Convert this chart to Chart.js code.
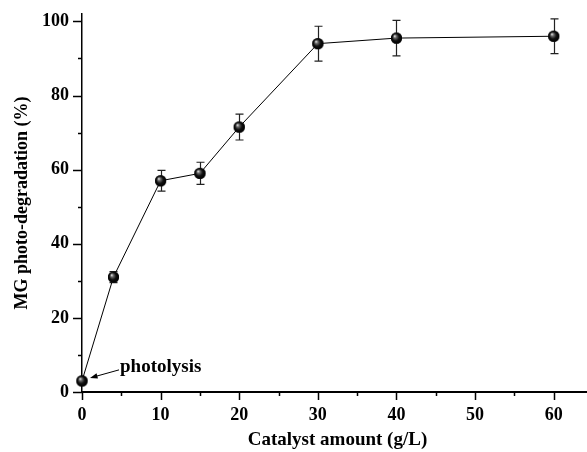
<!DOCTYPE html>
<html>
<head>
<meta charset="utf-8">
<script src="https://cdn.jsdelivr.net/npm/chart.js@4"></script>
<style>
  html, body { margin: 0; padding: 0; background: #fff; overflow: hidden; }
  #chart { display: block; }
</style>
</head>
<body>
<canvas id="chart" width="600" height="452"></canvas>
<script>
// catalyst loading (g/L) vs. MG photo-degradation (%)
const amounts = [0, 4, 10, 15, 20, 30, 40, 60];
const degradation = [3, 31, 57, 59, 71.5, 94, 95.5, 96];
const errors = [0, 1.5, 2.8, 3, 3.5, 4.7, 4.8, 4.7];

const xTicks = [0, 5, 10, 15, 20, 25, 30, 35, 40, 45, 50, 55, 60, 65];
const yTicks = [0, 10, 20, 30, 40, 50, 60, 70, 80, 90, 100];

const FONT = '"Liberation Serif", "Times New Roman", serif';

// shaded ball marker
function makeBall(r) {
    const c = document.createElement('canvas');
    const s = r * 2 + 2;
    c.width = s; c.height = s;
    const g = c.getContext('2d');
    const cx = s / 2, cy = s / 2;
    const grad = g.createRadialGradient(cx - r * 0.35, cy - r * 0.4, 0.3, cx, cy, r);
    grad.addColorStop(0, '#e8e8e8');
    grad.addColorStop(0.25, '#6a6a6a');
    grad.addColorStop(0.6, '#111');
    grad.addColorStop(1, '#000');
    g.fillStyle = grad;
    g.beginPath();
    g.arc(cx, cy, r, 0, Math.PI * 2);
    g.fill();
    return c;
}
const ball = makeBall(5.5);

// error bars, drawn under the markers
const errorBars = {
    id: 'errorBars',
    afterDatasetsDraw(chart) {
        const ctx = chart.ctx;
        const xs = chart.scales.x, ys = chart.scales.y;
        ctx.save();
        ctx.strokeStyle = '#222';
        ctx.lineWidth = 1.2;
        amounts.forEach((a, i) => {
            if (!errors[i]) return;
            const px = Math.round(xs.getPixelForValue(a)) + 0.5;
            const top = ys.getPixelForValue(degradation[i] + errors[i]);
            const bot = ys.getPixelForValue(degradation[i] - errors[i]);
            ctx.beginPath();
            ctx.moveTo(px, top); ctx.lineTo(px, bot);
            ctx.moveTo(px - 4, top); ctx.lineTo(px + 4, top);
            ctx.moveTo(px - 4, bot); ctx.lineTo(px + 4, bot);
            ctx.stroke();
        });
        // redraw balls on top of the bars
        const meta = chart.getDatasetMeta(0);
        meta.data.forEach(pt => {
            ctx.drawImage(ball, pt.x - ball.width / 2, pt.y - ball.height / 2);
        });
        ctx.restore();
    }
};

// outward axis ticks (major + minor) and the photolysis note
const axisDecor = {
    id: 'axisDecor',
    afterDraw(chart) {
        const ctx = chart.ctx;
        const xs = chart.scales.x, ys = chart.scales.y;
        const area = chart.chartArea;
        ctx.save();
        ctx.strokeStyle = '#000';
        ctx.lineWidth = 1.5;
        ctx.beginPath();
        xTicks.forEach(v => {
            const px = Math.round(xs.getPixelForValue(v)) + 0.5;
            const len = v % 10 === 0 ? 8 : 4;
            ctx.moveTo(px, area.bottom); ctx.lineTo(px, area.bottom + len);
        });
        yTicks.forEach(v => {
            const py = Math.round(ys.getPixelForValue(v)) + 0.5;
            const len = v % 20 === 0 ? 9 : 4;
            ctx.moveTo(area.left, py); ctx.lineTo(area.left - len, py);
        });
        ctx.stroke();

        // photolysis label with arrow to the first point
        const px = xs.getPixelForValue(amounts[0]);
        const py = ys.getPixelForValue(degradation[0]);
        ctx.fillStyle = '#000';
        ctx.font = 'bold 19px ' + FONT;
        ctx.textBaseline = 'alphabetic';
        ctx.fillText('photolysis', px + 38, py - 9);
        const x0 = px + 37, y0 = py - 11, x1 = px + 8, y1 = py - 3;
        ctx.lineWidth = 1;
        ctx.beginPath();
        ctx.moveTo(x0, y0); ctx.lineTo(x1 + 6, y1 - 1.6);
        ctx.stroke();
        const ang = Math.atan2(y1 - y0, x1 - x0);
        ctx.beginPath();
        ctx.moveTo(x1, y1);
        ctx.lineTo(x1 - 8 * Math.cos(ang - 0.35), y1 - 8 * Math.sin(ang - 0.35));
        ctx.lineTo(x1 - 8 * Math.cos(ang + 0.35), y1 - 8 * Math.sin(ang + 0.35));
        ctx.closePath();
        ctx.fill();
        ctx.restore();
    }
};

new Chart(document.getElementById('chart'), {
    type: 'line',
    data: {
        datasets: [{
            data: amounts.map((a, i) => ({ x: a, y: degradation[i] })),
            borderColor: '#000',
            borderWidth: 1,
            pointStyle: ball,
            pointRadius: 5.5,
            clip: false,
            tension: 0
        }]
    },
    options: {
        responsive: false,
        devicePixelRatio: 1,
        animation: false,
        layout: { padding: { top: 14, right: 7, left: 0, bottom: 0 } },
        plugins: { legend: { display: false }, tooltip: { enabled: false } },
        scales: {
            x: {
                type: 'linear',
                min: 0, max: 65,
                afterBuildTicks: s => { s.ticks = xTicks.map(v => ({ value: v })); },
                afterFit: s => { s.height = 60; s.paddingLeft = 0; s.paddingRight = 0; },
                grid: { display: false, drawTicks: false },
                border: { display: true, color: '#000', width: 2 },
                ticks: {
                    autoSkip: false,
                    maxRotation: 0,
                    padding: 13,
                    color: '#000',
                    font: { family: FONT, size: 18, weight: 'bold' },
                    callback: v => (v % 10 === 0 && v <= 60 ? String(v) : '')
                },
                title: {
                    display: true,
                    text: 'Catalyst amount (g/L)',
                    color: '#000',
                    font: { family: FONT, size: 19, weight: 'bold' },
                    padding: { top: 0, bottom: 1 }
                }
            },
            y: {
                type: 'linear',
                min: 0, max: 102,
                afterBuildTicks: s => { s.ticks = yTicks.map(v => ({ value: v })); },
                afterFit: s => { s.width = 82; s.paddingTop = 0; s.paddingBottom = 0; },
                grid: { display: false, drawTicks: false },
                border: { display: true, color: '#000', width: 1.5 },
                ticks: {
                    autoSkip: false,
                    padding: 13,
                    color: '#000',
                    font: { family: FONT, size: 18, weight: 'bold' },
                    callback: v => (v % 20 === 0 ? String(v) : '')
                },
                title: {
                    display: true,
                    text: 'MG photo-degradation (%)',
                    color: '#000',
                    font: { family: FONT, size: 18, weight: 'bold' },
                    padding: { top: 12, bottom: 0 }
                }
            }
        }
    },
    plugins: [errorBars, axisDecor]
});
</script>
</body>
</html>
